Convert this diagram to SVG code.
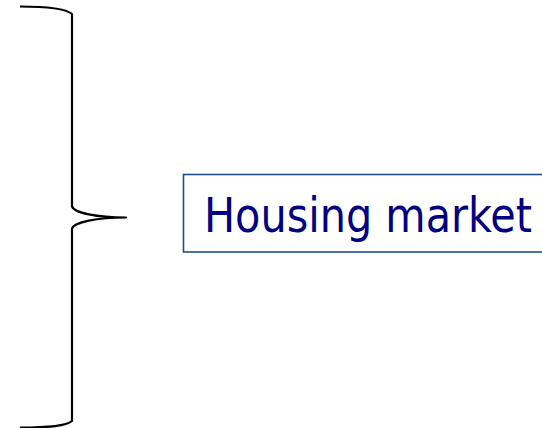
<svg xmlns="http://www.w3.org/2000/svg" width="542" height="428" viewBox="0 0 542 428">
<style>
.brace{fill:none;stroke:#000;stroke-width:2.2;stroke-linejoin:round}
.box{fill:#fff;stroke:#1F4E89;stroke-width:1.6}
.lbl{font-family:"DejaVu Sans Condensed","DejaVu Sans",sans-serif;font-size:48px;fill:#000080}
</style>
<rect width="542" height="428" fill="#fff"/>
<g id="connectors">
<path class="brace" d="M20,6.5 C50,6.5 66,9 72,14 L72,206 C73,213 98,217.5 126,217.5 C98,217.5 73,222 72,229 L72,421 C66,426 50,427.5 20,427.5"/>
</g>
<g id="housing-market">
<rect class="box" x="183.5" y="174.5" width="380" height="77.5"/>
<text class="lbl" x="204" y="232" textLength="328" lengthAdjust="spacingAndGlyphs">Housing market</text>
</g>
</svg>
